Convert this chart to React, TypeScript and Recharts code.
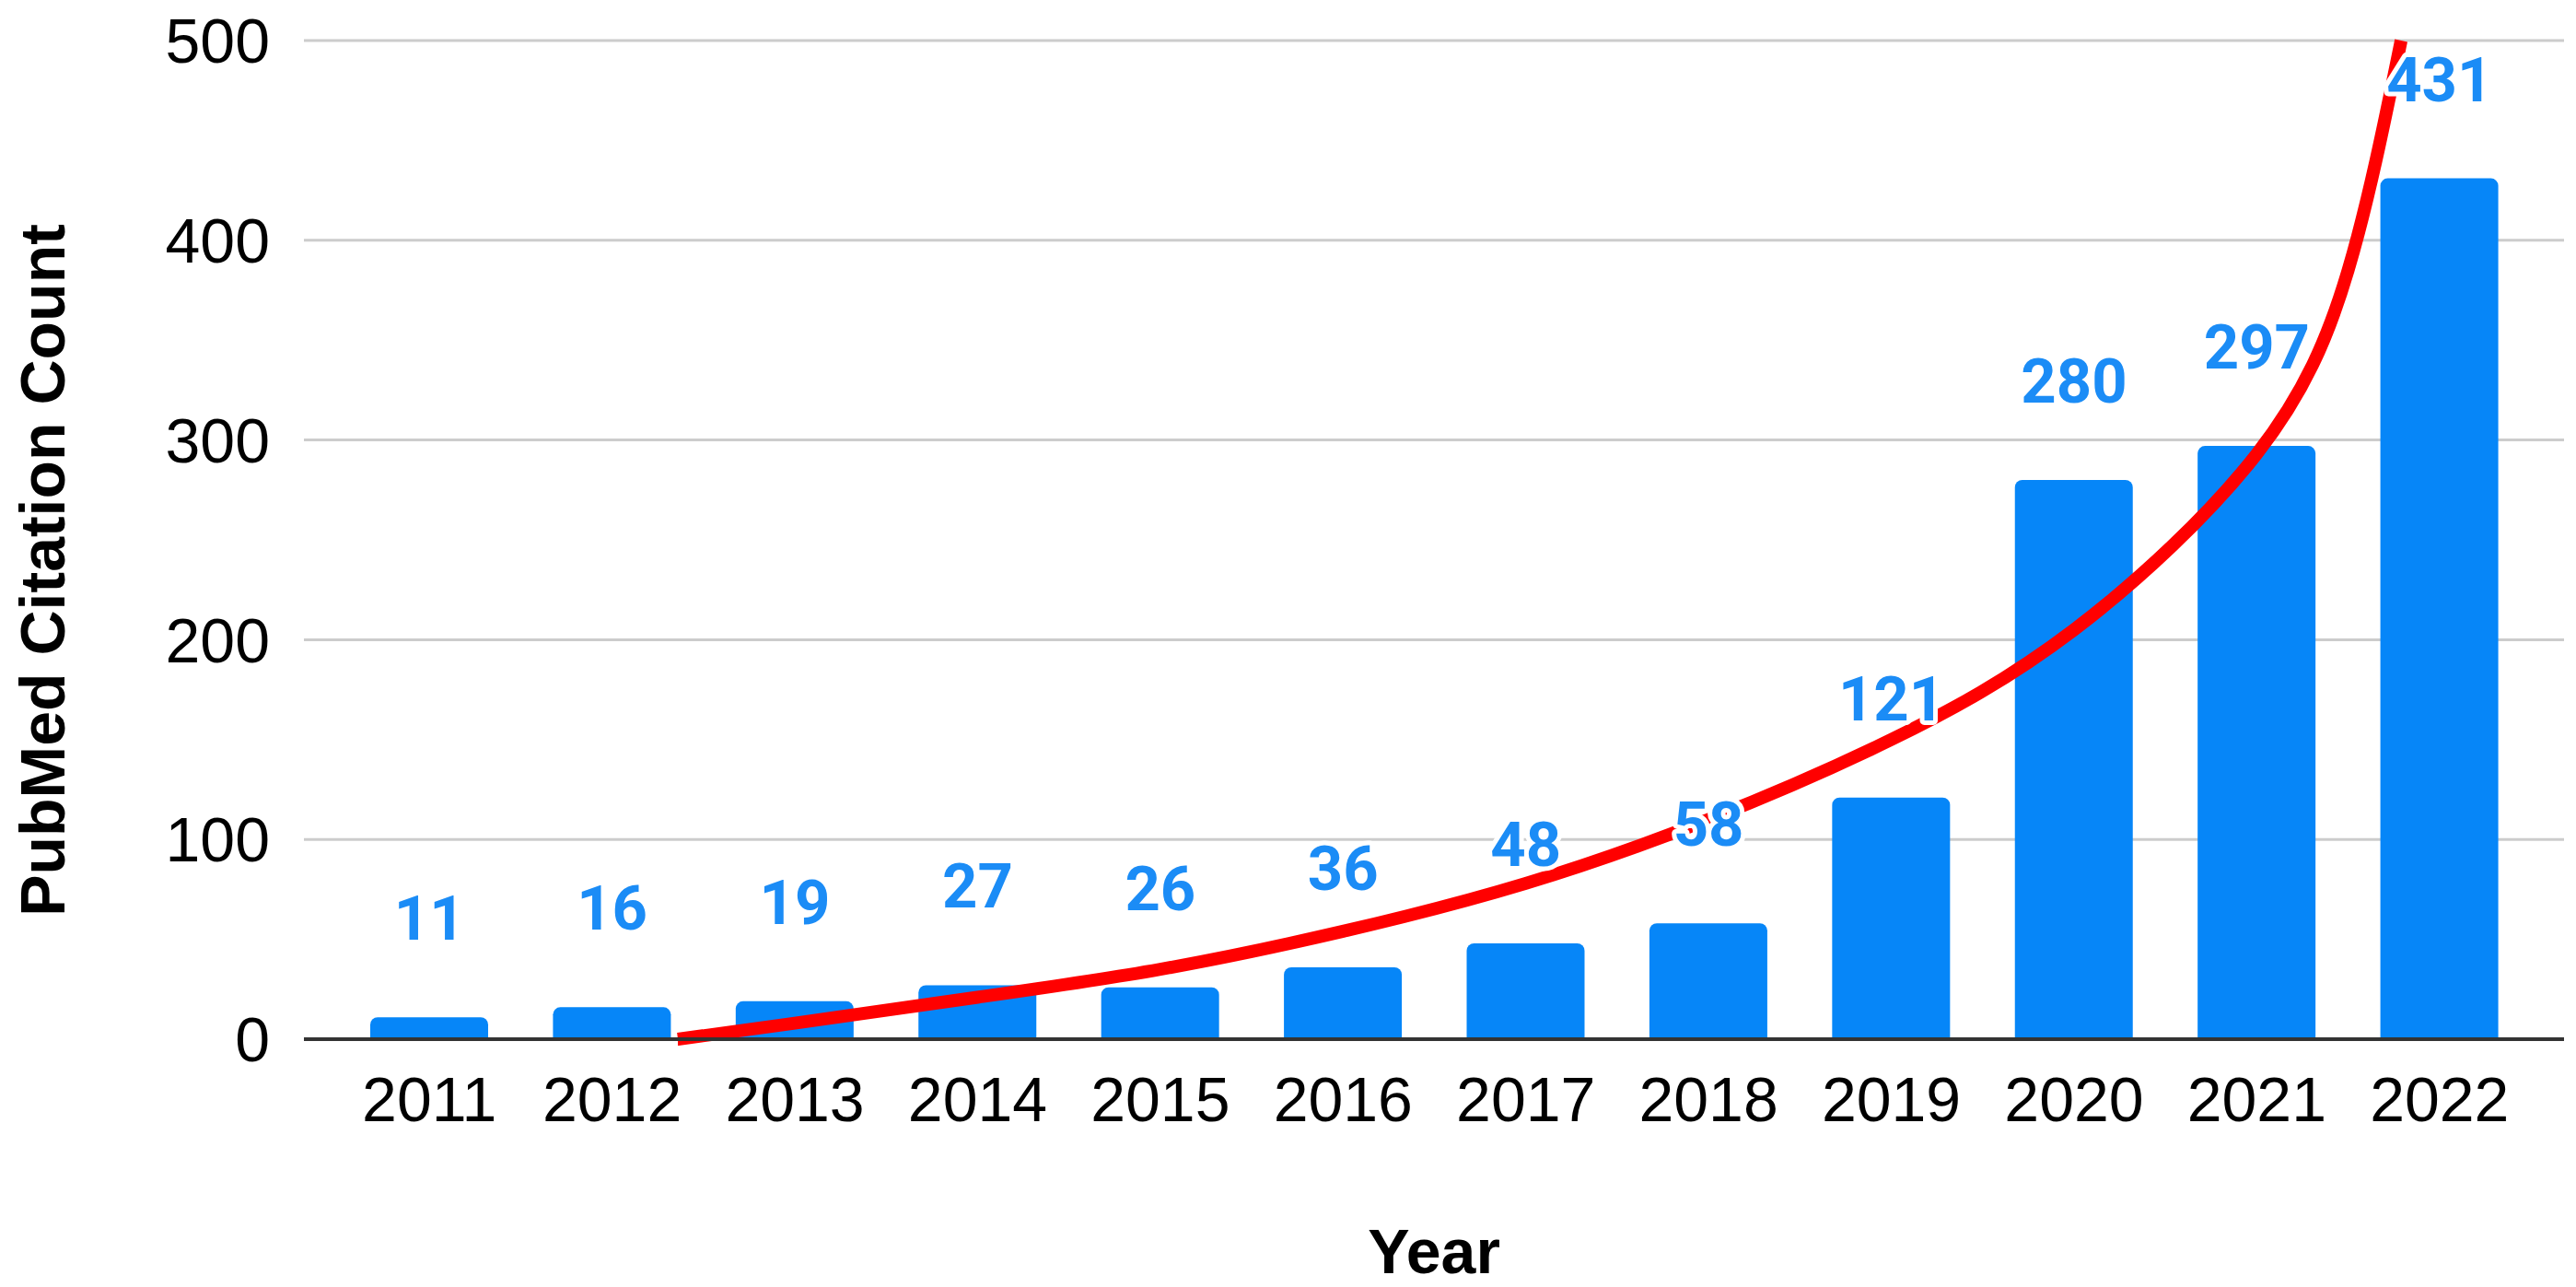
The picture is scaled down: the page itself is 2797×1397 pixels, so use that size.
import React from 'react';
import { ComposedChart, Bar, Line, XAxis, YAxis, CartesianGrid, LabelList } from 'recharts';

const years = ['2011', '2012', '2013', '2014', '2015', '2016', '2017', '2018', '2019', '2020', '2021', '2022'];
const citationCounts = [11, 16, 19, 27, 26, 36, 48, 58, 121, 280, 297, 431];
const yTicks = [0, 100, 200, 300, 400, 500];
const trendX = [2012.36, 2013, 2014, 2015, 2016, 2017, 2018, 2019, 2020, 2021, 2021.5, 2021.79];
const trendY = [0, 8, 21, 35, 54, 78, 110, 150, 205, 293, 385, 500];

const data = years.map((year, i) => ({ year, count: citationCounts[i] }));
const trendData = trendX.map((x, i) => ({ x, trend: trendY[i] }));

const BAR_COLOR = '#0686F8';
const LABEL_COLOR = '#1B8CF6';

const renderValueLabel = (props: any) => {
  const { x, y, value } = props;
  return (
    <text
      x={x}
      y={y - 84}
      textAnchor="middle"
      fill={LABEL_COLOR}
      stroke="#ffffff"
      strokeWidth={10}
      strokeLinejoin="round"
      paintOrder="stroke"
      fontFamily="Roboto, 'Liberation Sans', Arial, sans-serif"
      fontWeight={700}
      fontSize={67}
    >
      {value}
    </text>
  );
};

const renderYLabel = (props: any) => {
  const vb = props.viewBox || { x: 0, y: 44, width: 330, height: 1084 };
  const cx = vb.x + 70;
  const cy = vb.y + vb.height / 2 + 33;
  return (
    <text
      x={cx}
      y={cy}
      transform={`rotate(-90, ${cx}, ${cy})`}
      textAnchor="middle"
      fill="#000"
      fontFamily="'Liberation Sans', Arial, sans-serif"
      fontWeight={700}
      fontSize={68}
    >
      PubMed Citation Count
    </text>
  );
};

const renderXLabel = (props: any) => {
  const vb = props.viewBox || { x: 330, y: 1128, width: 2454, height: 269 };
  return (
    <text
      x={vb.x + vb.width / 2}
      y={vb.y + 254}
      textAnchor="middle"
      fill="#000"
      fontFamily="'Liberation Sans', Arial, sans-serif"
      fontWeight={700}
      fontSize={68}
    >
      Year
    </text>
  );
};

const tickStyle = { fill: '#000', fontSize: 68, fontFamily: "'Liberation Sans', Arial, sans-serif" };

export default function App() {
  return (
    <div style={{ position: 'absolute', left: 0, top: 0, background: '#fff' }}>
      <ComposedChart
        width={2797}
        height={1397}
        data={data}
        margin={{ top: 44, right: 13, bottom: 0, left: 0 }}
      >
        <CartesianGrid xAxisId="cat" vertical={false} stroke="#cccccc" strokeWidth={3} />
        <XAxis
          xAxisId="cat"
          dataKey="year"
          type="category"
          interval={0}
          height={269}
          padding={{ left: 37, right: 36 }}
          axisLine={{ stroke: '#333333', strokeWidth: 4 }}
          tickLine={false}
          tickSize={0}
          tickMargin={41}
          tick={tickStyle}
          label={{ content: renderXLabel }}
        />
        <XAxis
          xAxisId="num"
          dataKey="x"
          type="number"
          domain={[2010.5, 2022.5]}
          padding={{ left: 37, right: 36 }}
          hide
        />
        <YAxis
          domain={[0, 500]}
          ticks={yTicks}
          width={330}
          axisLine={false}
          tickLine={false}
          tickSize={0}
          tickMargin={37}
          tick={tickStyle}
          label={{ content: renderYLabel }}
        />
        <Bar
          xAxisId="cat"
          dataKey="count"
          fill={BAR_COLOR}
          barSize={128}
          radius={[8, 8, 0, 0]}
          isAnimationActive={false}
        />
        <Line
          xAxisId="num"
          data={trendData}
          dataKey="trend"
          type="natural"
          stroke="#ff0000"
          strokeWidth={14}
          dot={false}
          activeDot={false}
          isAnimationActive={false}
        />
        <Line
          xAxisId="cat"
          dataKey="count"
          stroke="none"
          dot={false}
          activeDot={false}
          isAnimationActive={false}
        >
          <LabelList dataKey="count" content={renderValueLabel} />
        </Line>
      </ComposedChart>
    </div>
  );
}
